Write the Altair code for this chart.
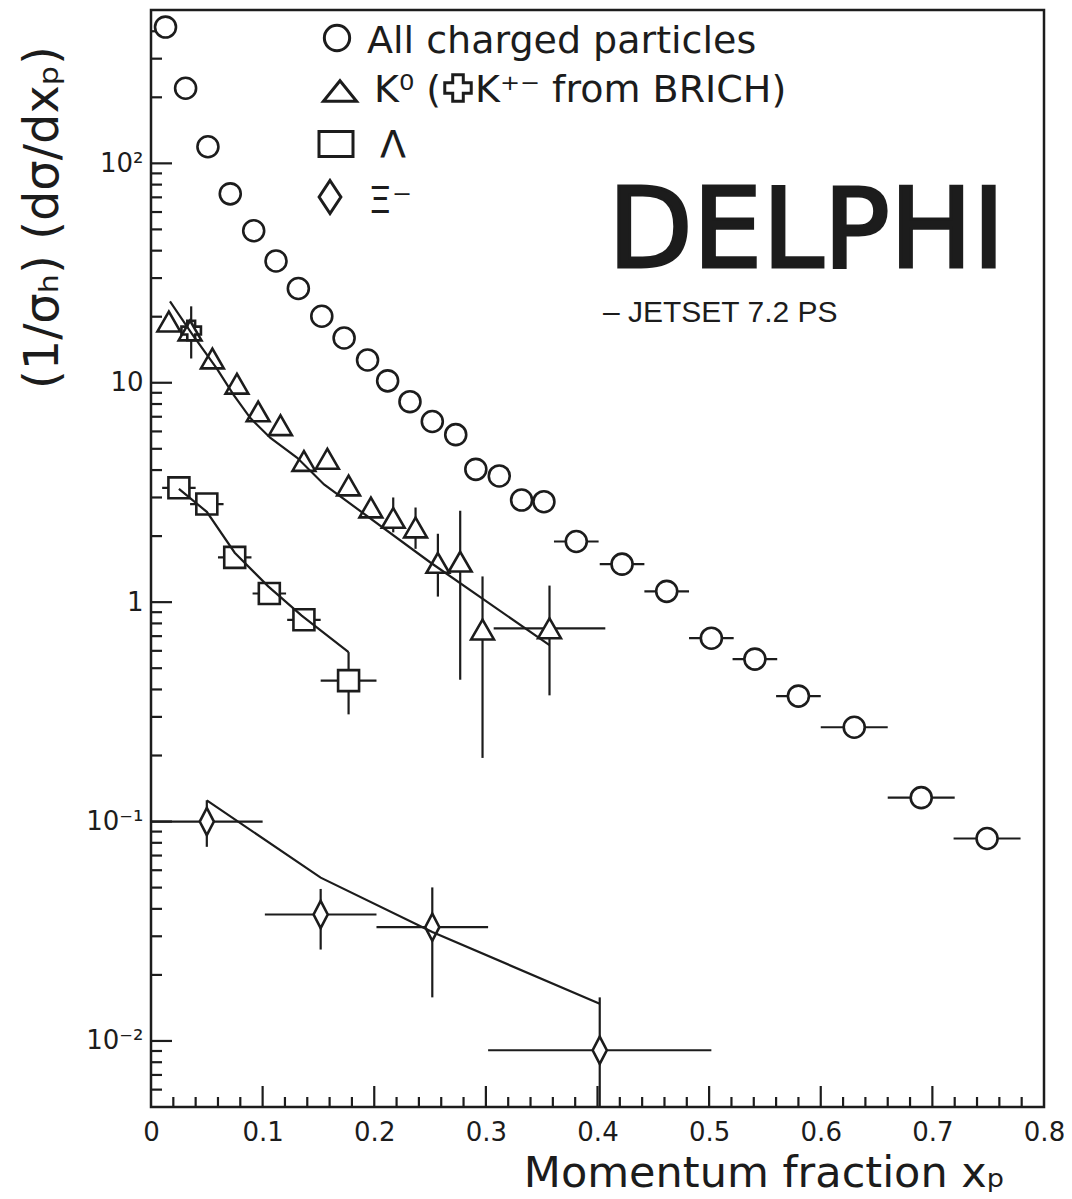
import altair as alt
import pandas as pd

# ---------------- data ----------------
# All charged particles (circles)
ch_x = [0.013, 0.031, 0.051, 0.071, 0.092, 0.112, 0.132, 0.153, 0.173, 0.194,
        0.212, 0.232, 0.252, 0.273, 0.291, 0.312, 0.332, 0.352, 0.381, 0.422,
        0.462, 0.502, 0.541, 0.580, 0.630, 0.690, 0.749]
ch_y = [418, 220, 119, 72.6, 49.3, 35.9, 26.9, 20.1, 16.0, 12.7,
        10.2, 8.20, 6.66, 5.80, 4.03, 3.76, 2.92, 2.87, 1.89, 1.49,
        1.12, 0.685, 0.550, 0.373, 0.269, 0.1285, 0.0837]
ch_xerr = [0, 0, 0, 0, 0, 0, 0, 0, 0, 0,
           0, 0, 0, 0, 0, 0, 0, 0, 0.02, 0.02,
           0.02, 0.02, 0.02, 0.02, 0.03, 0.03, 0.03]

# K0 (triangles)
k0_x = [0.016, 0.035, 0.055, 0.077, 0.096, 0.116, 0.137, 0.158, 0.177, 0.197,
        0.217, 0.237, 0.257, 0.277, 0.297, 0.357]
k0_y = [19.0, 17.3, 12.9, 9.9, 7.4, 6.4, 4.4, 4.5, 3.4, 2.7,
        2.42, 2.19, 1.51, 1.53, 0.75, 0.76]
k0_ylo = [None] * 10 + [2.08, 1.75, 1.06, 0.443, 0.195, 0.376]
k0_yhi = [None] * 10 + [3.00, 2.70, 2.05, 2.61, 1.31, 1.19]
k0_xerr = [0] * 15 + [0.05]

# K+- from BRICH (cross)
kc_x = [0.036]
kc_y = [17.3]
kc_ylo = [12.9]
kc_yhi = [22.3]

# Lambda (squares)
lam_x = [0.025, 0.050, 0.075, 0.106, 0.137, 0.177]
lam_y = [3.32, 2.80, 1.60, 1.095, 0.831, 0.439]
lam_xerr = [0.015, 0.015, 0.015, 0.015, 0.015, 0.025]
lam_ylo = [None, None, None, None, None, 0.308]
lam_yhi = [None, None, None, None, None, 0.592]

# Xi- (diamonds)
xi_x = [0.050, 0.152, 0.252, 0.402]
xi_y = [0.100, 0.0377, 0.033, 0.00907]
xi_xerr = [0.05, 0.05, 0.05, 0.10]
xi_ylo = [0.0767, 0.0261, 0.0158, 0.004]
xi_yhi = [0.125, 0.0493, 0.0501, 0.0158]

# JETSET 7.2 PS curves
jk0_x = [0.017, 0.037, 0.059, 0.074, 0.089, 0.107, 0.131, 0.155, 0.250, 0.357]
jk0_y = [23.5, 16.6, 11.6, 8.8, 6.9, 5.6, 4.55, 3.44, 1.52, 0.637]
jlam_x = [0.025, 0.050, 0.075, 0.105, 0.135, 0.177]
jlam_y = [3.28, 2.58, 1.68, 1.18, 0.868, 0.592]
jxi_x = [0.050, 0.152, 0.252, 0.402]
jxi_y = [0.125, 0.0555, 0.0314, 0.01476]

# axis ticks
x_major = [0, 0.1, 0.2, 0.3, 0.4, 0.5, 0.6, 0.7, 0.8]
x_minor = [0.02, 0.04, 0.06, 0.08, 0.12, 0.14, 0.16, 0.18, 0.22, 0.24, 0.26, 0.28,
           0.32, 0.34, 0.36, 0.38, 0.42, 0.44, 0.46, 0.48, 0.52, 0.54, 0.56, 0.58,
           0.62, 0.64, 0.66, 0.68, 0.72, 0.74, 0.76, 0.78]
y_major = [0.01, 0.1, 1, 10, 100]
y_minor = [0.006, 0.007, 0.008, 0.009,
           0.02, 0.03, 0.04, 0.05, 0.06, 0.07, 0.08, 0.09,
           0.2, 0.3, 0.4, 0.5, 0.6, 0.7, 0.8, 0.9,
           2, 3, 4, 5, 6, 7, 8, 9,
           20, 30, 40, 50, 60, 70, 80, 90,
           200, 300, 400]

# ---------------- chart ----------------
W, H = 893, 1097
INK = "#1c1c1c"
FONT = "DejaVu Sans"
xs = alt.Scale(domain=[0, 0.8], nice=False, zero=False)
ys = alt.Scale(type="log", domain=[0.005, 500], nice=False)

AXIS_X = alt.Axis(values=x_major, format="~g", labelFont=FONT, labelFontSize=26,
                  labelColor=INK, labelPadding=12, labelFlush=False, labelOverlap=False,
                  ticks=False, domain=False, grid=False,
                  title="Momentum fraction xₚ", titleFont=FONT, titleFontSize=43,
                  titleFontWeight="normal", titleColor=INK, titleAlign="center",
                  titleX=613, titleY=79, titleBaseline="alphabetic", titleLimit=2000)
LABEL_EXPR = ("datum.value == 100 ? '10²' : datum.value == 10 ? '10\u00a0' : "
              "datum.value == 1 ? '1\u00a0' : datum.value == 0.1 ? '10⁻¹' : "
              "datum.value == 0.01 ? '10⁻²' : ''")
AXIS_Y = alt.Axis(values=y_major, labelExpr=LABEL_EXPR, labelFont=FONT, labelFontSize=26,
                  labelColor=INK, labelPadding=8, labelOverlap=False, labelFlush=False,
                  ticks=False, domain=False, grid=False,
                  title="(1/σₕ) (dσ/dxₚ)", titleFont=FONT, titleFontSize=48,
                  titleFontWeight="normal", titleColor=INK, titleAngle=270,
                  titleAlign="center", titleX=-94, titleY=207, titleBaseline="alphabetic",
                  titleLimit=2000)


def ex(field="x"):
    return alt.X(f"{field}:Q", scale=xs, axis=AXIS_X)


def ey(field="y"):
    return alt.Y(f"{field}:Q", scale=ys, axis=AXIS_Y)


df_ch = pd.DataFrame({"x": ch_x, "y": ch_y, "xe": ch_xerr})
df_ch["x1"] = df_ch.x - df_ch.xe
df_ch["x2"] = df_ch.x + df_ch.xe
df_ch_err = df_ch[df_ch.xe > 0]

df_k0 = pd.DataFrame({"x": k0_x, "y": k0_y, "lo": k0_ylo, "hi": k0_yhi, "xe": k0_xerr})
df_k0["x1"] = df_k0.x - df_k0.xe
df_k0["x2"] = df_k0.x + df_k0.xe
df_k0_v = df_k0.dropna(subset=["lo"])
df_k0_h = df_k0[df_k0.xe > 0]

df_kc = pd.DataFrame({"x": kc_x, "y": kc_y, "lo": kc_ylo, "hi": kc_yhi})

df_lam = pd.DataFrame({"x": lam_x, "y": lam_y, "lo": lam_ylo, "hi": lam_yhi, "xe": lam_xerr})
df_lam["x1"] = df_lam.x - df_lam.xe
df_lam["x2"] = df_lam.x + df_lam.xe
df_lam_v = df_lam.dropna(subset=["lo"])

df_xi = pd.DataFrame({"x": xi_x, "y": xi_y, "lo": xi_ylo, "hi": xi_yhi, "xe": xi_xerr})
df_xi["x1"] = df_xi.x - df_xi.xe
df_xi["x2"] = df_xi.x + df_xi.xe

df_jk0 = pd.DataFrame({"x": jk0_x, "y": jk0_y})
df_jlam = pd.DataFrame({"x": jlam_x, "y": jlam_y})
df_jxi = pd.DataFrame({"x": jxi_x, "y": jxi_y})


def hbar(df):
    return alt.Chart(df).mark_rule(stroke=INK, strokeWidth=2.2).encode(
        x=ex("x1"), x2="x2", y=ey("y"))


def vbar(df):
    return alt.Chart(df).mark_rule(stroke=INK, strokeWidth=2.2, clip=True).encode(
        x=ex("x"), y=ey("lo"), y2="hi")


def pts(df, shape, size, fill="white", sw=2.6):
    return alt.Chart(df).mark_point(shape=shape, size=size, filled=False, fill=fill,
                                    stroke=INK, strokeWidth=sw, opacity=1).encode(
        x=ex("x"), y=ey("y"))


def curve(df):
    return alt.Chart(df).mark_line(stroke=INK, strokeWidth=2.2).encode(
        x=ex("x"), y=ey("y"))


# inward tick marks
xt_major = alt.Chart(pd.DataFrame({"x": x_major[1:-1]})).mark_rule(stroke=INK, strokeWidth=2.2).encode(
    x=ex("x"), y=alt.value(H), y2=alt.value(H - 21))
xt_minor = alt.Chart(pd.DataFrame({"x": x_minor})).mark_rule(stroke=INK, strokeWidth=2.2).encode(
    x=ex("x"), y=alt.value(H), y2=alt.value(H - 10))
yt_major = alt.Chart(pd.DataFrame({"y": y_major})).mark_rule(stroke=INK, strokeWidth=2.2).encode(
    y=ey("y"), x=alt.value(0), x2=alt.value(21))
yt_minor = alt.Chart(pd.DataFrame({"y": y_minor})).mark_rule(stroke=INK, strokeWidth=2.2).encode(
    y=ey("y"), x=alt.value(0), x2=alt.value(11))

DIAMOND = "M0,-1 L0.52,0 L0,1 L-0.52,0 Z"

layers = [
    xt_major, xt_minor, yt_major, yt_minor,
    hbar(df_ch_err),
    vbar(df_k0_v), hbar(df_k0_h),
    vbar(df_kc),
    hbar(df_lam), vbar(df_lam_v),
    hbar(df_xi), vbar(df_xi),
    pts(df_ch, "circle", 440),
    pts(df_k0, "triangle-up", 520),
    pts(df_kc, "cross", 380, fill="transparent"),
    pts(df_lam, "square", 440),
    pts(df_xi, DIAMOND, 740),
    curve(df_jk0), curve(df_jlam), curve(df_jxi),
]

# ---------------- key and labels (annotations) ----------------
one = pd.DataFrame({"a": [0]})


def txt(s, px, py, size, font=FONT, align="left", baseline="alphabetic", **kw):
    return alt.Chart(one).mark_text(text=s, font=font, fontSize=size, align=align,
                                    baseline=baseline, color=INK, **kw).encode(
        x=alt.value(px), y=alt.value(py))


def key(shape, px, py, size, fill="white", sw=3):
    return alt.Chart(one).mark_point(shape=shape, size=size, filled=False, fill=fill,
                                     stroke=INK, strokeWidth=sw, opacity=1).encode(
        x=alt.value(px), y=alt.value(py))


KEY_TRI = "M0,-0.62 L1,0.62 L-1,0.62 Z"
KEY_SQ = "M-1,-0.74 L1,-0.74 L1,0.74 L-1,0.74 Z"
KEY_DIA = "M0,-1 L0.66,0 L0,1 L-0.66,0 Z"

layers += [
    key("circle", 186, 28, 640),
    txt("All charged particles", 216, 43, 38),
    key(KEY_TRI, 189, 81, 1100),
    txt("K⁰ (", 223, 92, 38),
    key("cross", 307, 78, 700, fill="transparent"),
    txt("K⁺⁻ from BRICH)", 324, 92, 38),
    key(KEY_SQ, 185, 134, 1156),
    txt("Λ", 229, 147, 38),
    key(KEY_DIA, 179, 187, 1089),
    txt("Ξ⁻", 217, 203, 38),
    txt("DELPHI", 457, 257, 110, stroke=INK, strokeWidth=3),
    txt("– JETSET 7.2 PS", 452, 312, 30, font="Liberation Sans"),
]

chart = alt.layer(*layers).properties(
    width=W, height=H,
    padding={"left": 143, "top": 2, "right": 20, "bottom": 90},
    autosize=alt.AutoSizeParams(type="none"),
    background="white",
).configure_view(stroke=INK, strokeWidth=2.5)

chart.save("out.html", embed_options={"renderer": "svg", "actions": False})
